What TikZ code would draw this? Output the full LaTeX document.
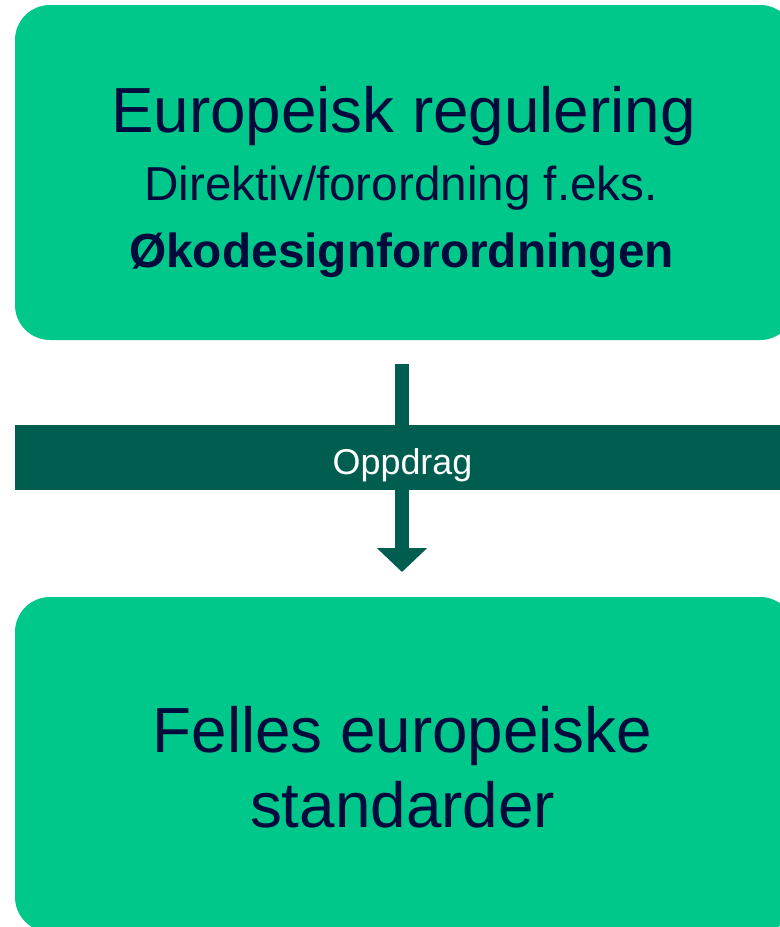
\documentclass[tikz,border=0pt]{standalone}
\usepackage{fontspec}
\setmainfont{Liberation Sans}
\usetikzlibrary{arrows.meta}
\definecolor{boxgreen}{HTML}{00C78A}
\definecolor{darkteal}{HTML}{005E50}
\definecolor{navy}{HTML}{000A3C}
\tikzset{
  greenbox/.style={fill=boxgreen, draw=none, rounded corners=35bp},
  bigtext/.style={text=navy, anchor=base, inner sep=0pt, font=\fontsize{64}{70}\selectfont},
  midtext/.style={text=navy, anchor=base, inner sep=0pt, font=\fontsize{47.8}{54}\selectfont},
  boldtext/.style={text=navy, anchor=base, inner sep=0pt, font=\fontsize{48}{54}\selectfont\bfseries},
  bandtext/.style={text=white, anchor=base, inner sep=0pt, font=\fontsize{36}{40}\selectfont},
  flowarrow/.style={draw=darkteal, line width=14bp, -{Triangle[width=49bp,length=24bp]}}
}
\begin{document}
\begin{tikzpicture}[x=1bp,y=-1bp]
\useasboundingbox (0,0) rectangle (780,927);
\clip (0,0) rectangle (780,927);
% boxes
\fill[greenbox] (15,5) rectangle (795,340);
\fill[greenbox] (15,597) rectangle (795,932);
% arrow
\coordinate (arrstart) at (402,364);
\coordinate (arrend) at (402,572);
\draw[flowarrow] (arrstart) -- (arrend);
% band
\fill[darkteal] (15,425) rectangle (790,490);
\node[bandtext] (oppdrag) at (402.5,474) {Oppdrag};
% texts
\node[bigtext] (title) at (403.5,132) {Europeisk regulering};
\node[midtext] (sub) at (401,200) {Direktiv/forordning f.eks.};
\node[boldtext] (eco) at (401.5,267) {Økodesignforordningen};
\node[bigtext] (felles) at (402.5,752) {Felles europeiske};
\node[bigtext] (std) at (402.5,827) {standarder};
\end{tikzpicture}
\end{document}
